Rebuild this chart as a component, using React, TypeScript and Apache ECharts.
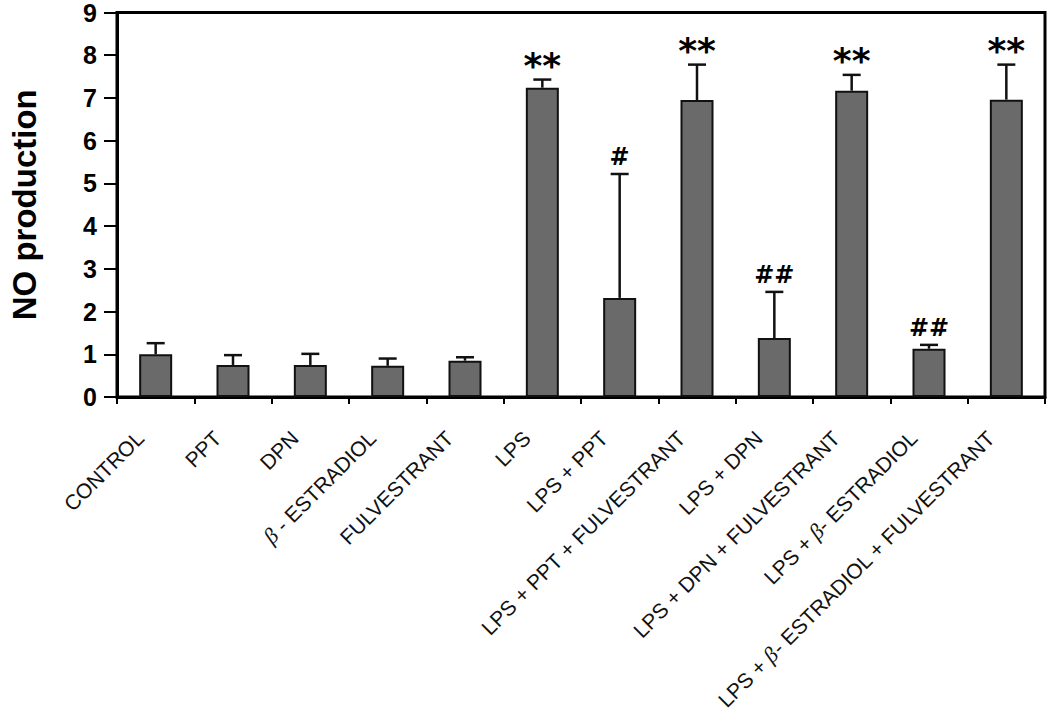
import React, { useEffect, useRef } from "react";
import * as echarts from "echarts";

const categories = [
  "CONTROL",
  "PPT",
  "DPN",
  "β - ESTRADIOL",
  "FULVESTRANT",
  "LPS",
  "LPS + PPT",
  "LPS + PPT + FULVESTRANT",
  "LPS + DPN",
  "LPS + DPN + FULVESTRANT",
  "LPS + β- ESTRADIOL",
  "LPS + β- ESTRADIOL + FULVESTRANT",
];
const values = [1.0, 0.75, 0.75, 0.73, 0.85, 7.24, 2.32, 6.95, 1.38, 7.17, 1.13, 6.96];
const errorTops = [1.26, 0.98, 1.01, 0.9, 0.93, 7.43, 5.22, 7.78, 2.46, 7.54, 1.22, 7.78];
const marks = ["", "", "", "", "", "**", "#", "**", "##", "**", "##", "**"];
const yTicks = [0, 9, 1];

export default function App() {
  const ref = useRef<HTMLDivElement>(null);
  useEffect(() => {
    if (!ref.current) return;
    const chart = echarts.init(ref.current, undefined, { renderer: "svg" });
    const errData = values.map((v, i) => [i, v, errorTops[i], marks[i]]);
    chart.setOption({
      animation: false,
      backgroundColor: "#fff",
      grid: {
        left: 110,
        right: 5,
        top: 12,
        bottom: 324,
        show: true,
        borderColor: "#000",
        borderWidth: 3,
        backgroundColor: "transparent",
      },
      xAxis: {
        type: "category",
        data: categories,
        boundaryGap: true,
        axisLine: { show: true, lineStyle: { color: "#000", width: 3 } },
        axisTick: { show: true, length: 7, alignWithLabel: false, lineStyle: { color: "#000", width: 2 } },
        axisLabel: {
          interval: 0,
          rotate: 45,
          margin: 22,
          padding: [0, 22, 0, 0],
          fontFamily: "Liberation Sans, Arial, sans-serif",
          fontSize: 21,
          color: "#111",
          formatter: (s: string) => s.replace("β", "{b|β}"),
          rich: {
            b: { fontStyle: "italic", fontFamily: "Liberation Serif, serif", fontSize: 22, color: "#111" },
          },
        },
        splitLine: { show: false },
      },
      yAxis: {
        type: "value",
        min: yTicks[0],
        max: yTicks[1],
        interval: yTicks[2],
        name: "NO production",
        nameLocation: "middle",
        nameGap: 76,
        nameTextStyle: {
          fontFamily: "Liberation Sans, Arial, sans-serif",
          fontWeight: "bold",
          fontSize: 33,
          color: "#000",
        },
        axisLine: { show: true, lineStyle: { color: "#000", width: 3 } },
        axisTick: { show: true, length: 13, lineStyle: { color: "#000", width: 2 } },
        axisLabel: {
          margin: 20,
          fontFamily: "Liberation Sans, Arial, sans-serif",
          fontWeight: "bold",
          fontSize: 25,
          color: "#000",
        },
        splitLine: { show: false },
      },
      series: [
        {
          type: "bar",
          data: values,
          barWidth: 33,
          itemStyle: { color: "#6a6a6a", borderColor: "#111", borderWidth: 2 },
          z: 2,
        },
        {
          type: "custom",
          data: errData,
          z: 3,
          renderItem: (params: any, api: any) => {
            const i = api.value(0);
            const base = api.coord([i, api.value(1)]);
            const top = api.coord([i, api.value(2)]);
            const label = marks[i];
            const isStar = label.indexOf("*") >= 0;
            const children: any[] = [
              {
                type: "line",
                shape: { x1: base[0], y1: base[1], x2: top[0], y2: top[1] },
                style: { stroke: "#111", lineWidth: 2.5 },
              },
              {
                type: "line",
                shape: { x1: top[0] - 9, y1: top[1], x2: top[0] + 9, y2: top[1] },
                style: { stroke: "#111", lineWidth: 2.5 },
              },
            ];
            if (label) {
              children.push({
                type: "text",
                x: top[0],
                y: top[1] + (isStar ? 4 : -5),
                style: {
                  text: label,
                  fill: "#000",
                  align: "center",
                  verticalAlign: "bottom",
                  fontFamily: "DejaVu Sans, sans-serif",
                  fontWeight: "bold",
                  fontSize: isStar ? 36 : 24,
                },
              });
            }
            return { type: "group", children };
          },
        },
      ],
    });
    return () => chart.dispose();
  }, []);
  return <div ref={ref} style={{ width: 1050, height: 721, position: "absolute", left: 0, top: 0 }} />;
}
